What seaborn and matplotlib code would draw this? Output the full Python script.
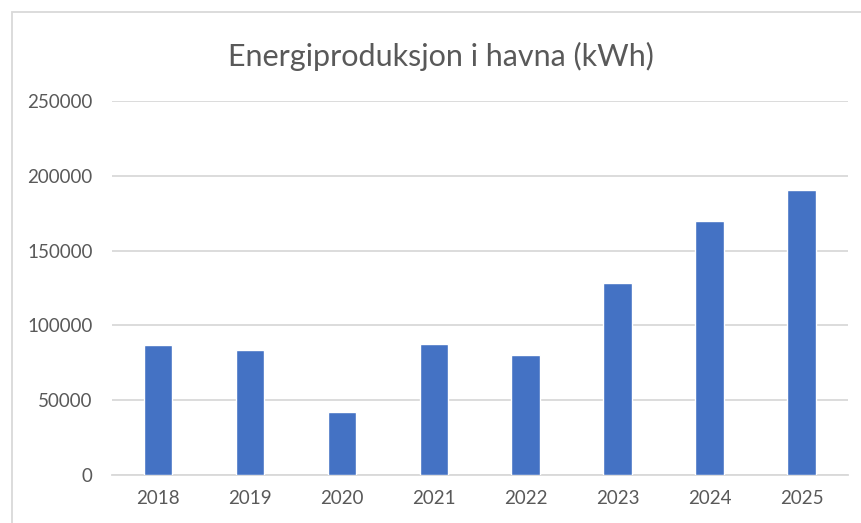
import matplotlib.pyplot as plt
import pandas as pd
import seaborn as sns
from matplotlib.patches import Rectangle

sns.set_theme(style="white")
plt.rcParams['font.family'] = ['Lato', 'DejaVu Sans']

years = ["2018", "2019", "2020", "2021", "2022", "2023", "2024", "2025"]
energy_kwh = [86800, 83600, 42000, 87400, 79900, 128500, 169500, 190500]
yticks = [0, 50000, 100000, 150000, 200000, 250000]

data = pd.DataFrame({"year": years, "kwh": energy_kwh})

fig = plt.figure(figsize=(8.61, 5.23), dpi=100)
ax = fig.add_axes([112 / 861, 1 - 475 / 523, (847.5 - 112) / 861, (475 - 101) / 523])

sns.barplot(data=data, x="year", y="kwh", color="#4472C4", saturation=1,
            width=0.31, ax=ax, zorder=3)

ax.set_ylim(0, 250000)
ax.set_yticks(yticks)
ax.set_yticklabels([str(v) for v in yticks])
ax.grid(axis="y", color="#D9D9D9", linewidth=1.3, zorder=0)
ax.set_xlabel("")
ax.set_ylabel("")
for s in ["top", "right", "left"]:
    ax.spines[s].set_visible(False)
ax.spines["bottom"].set_color("#D9D9D9")
ax.spines["bottom"].set_linewidth(1.3)
ax.tick_params(axis="both", length=0, colors="#595959", labelsize=13.5)
ax.tick_params(axis="y", pad=14)
ax.tick_params(axis="x", pad=11)

fig.text(441 / 861, 1 - 56 / 523, "Energiproduksjon i havna (kWh)",
         ha="center", va="center", fontsize=22, color="#595959")

# chart frame (cropped on right and bottom)
fig.patches.append(Rectangle((12 / 861, -0.1), 1.2, 1 - 12 / 523 + 0.1,
                             transform=fig.transFigure, fill=False,
                             edgecolor="#D9D9D9", linewidth=1.3))

plt.savefig("out.png", dpi=100)
